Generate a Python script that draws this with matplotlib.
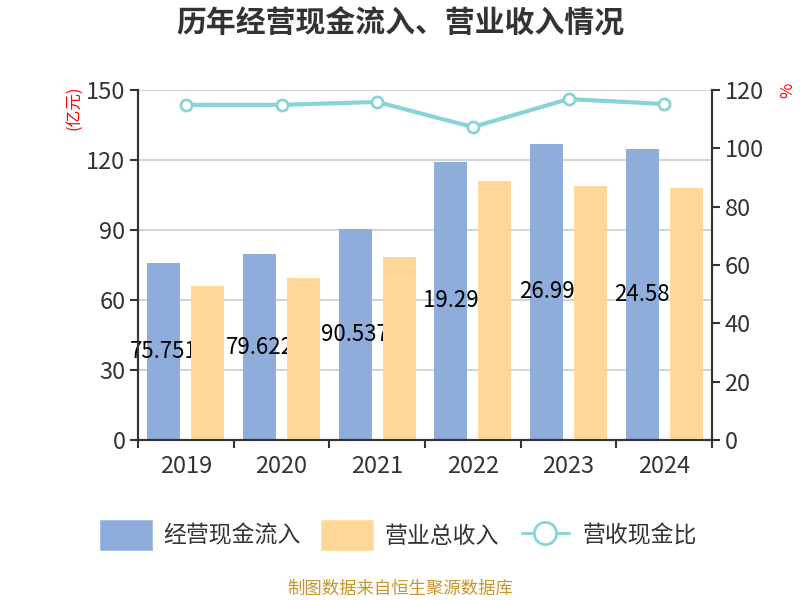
import numpy as np
import matplotlib.pyplot as plt
from matplotlib.patches import Patch
from matplotlib.lines import Line2D

plt.rcParams['font.family'] = ['Noto Sans CJK SC', 'DejaVu Sans']

years = ['2019', '2020', '2021', '2022', '2023', '2024']
cash_in = [75.75, 79.62, 90.53, 119.29, 126.99, 124.58]
revenue = [66.0, 69.4, 78.4, 111.0, 108.9, 108.0]
ratio = [114.9, 114.9, 115.9, 107.3, 116.9, 115.2]
# labels as they show up in the chart (partly hidden behind the orange bars)
cash_labels = ['75.751', '79.622', '90.537', '19.29', '26.99', '24.58']

c_blue = '#8eaddb'
c_orange = '#ffd899'
c_line = '#87d4d8'
c_text = '#333333'

fig = plt.figure(figsize=(8, 6), dpi=100)
ax = fig.add_axes([0.1725, 0.2667, 0.7175, 0.5833])
ax2 = ax.twinx()

x = np.arange(len(years))
w = 0.345
ax.bar(x - 0.23, cash_in, w, color=c_blue, zorder=2)
ax.bar(x + 0.23, revenue, w, color=c_orange, zorder=4)
for xi, v, s in zip(x, cash_in, cash_labels):
    ax.text(xi - 0.23, v / 2, s, ha='center', va='center', fontsize=16,
            color='black', zorder=3)

ax.set_xlim(-0.5, 5.5)
ax.set_ylim(0, 150)
ax.set_yticks([0, 30, 60, 90, 120, 150])
ax.grid(axis='y', color='#cccccc', linewidth=1.2, zorder=0)
ax.set_axisbelow(True)
ax.set_xticks(x)
ax.set_xticklabels(years)
ax.set_xticks(np.arange(-0.5, 6, 1), minor=True)
ax.tick_params(axis='x', which='major', length=0, pad=11, labelsize=17, labelcolor=c_text)
ax.tick_params(axis='x', which='minor', length=6, width=1.5, color=c_text, direction='out')
ax.tick_params(axis='y', length=6, width=1.5, color=c_text, labelsize=17, labelcolor=c_text, pad=3)

ax2.plot(x, ratio, color=c_line, linewidth=3, marker='o', markersize=8,
         markerfacecolor='white', markeredgecolor=c_line, markeredgewidth=2, zorder=5)
ax2.set_ylim(0, 120)
ax2.set_yticks([0, 20, 40, 60, 80, 100, 120])
ax2.tick_params(axis='y', length=6, width=1.5, color=c_text, labelsize=17, labelcolor=c_text, pad=3)

for a in (ax, ax2):
    a.spines['top'].set_visible(False)
    for side in ('left', 'right', 'bottom'):
        a.spines[side].set_color(c_text)
        a.spines[side].set_linewidth(1.5)

fig.text(0.5, 0.961, '历年经营现金流入、营业收入情况', ha='center', va='center',
         fontsize=21.5, fontweight='bold', color=c_text)
fig.text(0.094, 0.82, '(亿元)', rotation=90, ha='center', va='center', fontsize=12, color='red')
fig.text(0.985, 0.85, '%', rotation=90, ha='center', va='center', fontsize=12, color='red')

handles = [Patch(facecolor=c_blue, edgecolor=c_blue, linewidth=4, joinstyle='round'),
           Patch(facecolor=c_orange, edgecolor=c_orange, linewidth=4, joinstyle='round'),
           Line2D([], [], color=c_line, linewidth=2, marker='o', markersize=16,
                  markerfacecolor='white', markeredgecolor=c_line, markeredgewidth=2)]
fig.legend(handles, ['经营现金流入', '营业总收入', '营收现金比'], loc='center',
           bbox_to_anchor=(0.5, 0.108), ncol=3, frameon=False, fontsize=16.5,
           labelcolor=c_text, handlelength=2.05, handleheight=1.3, columnspacing=1.0,
           handletextpad=0.6)

fig.text(0.5, 0.018, '制图数据来自恒生聚源数据库', ha='center', va='center',
         fontsize=12.5, color='#c8952a')

fig.savefig('out.png', dpi=100)
